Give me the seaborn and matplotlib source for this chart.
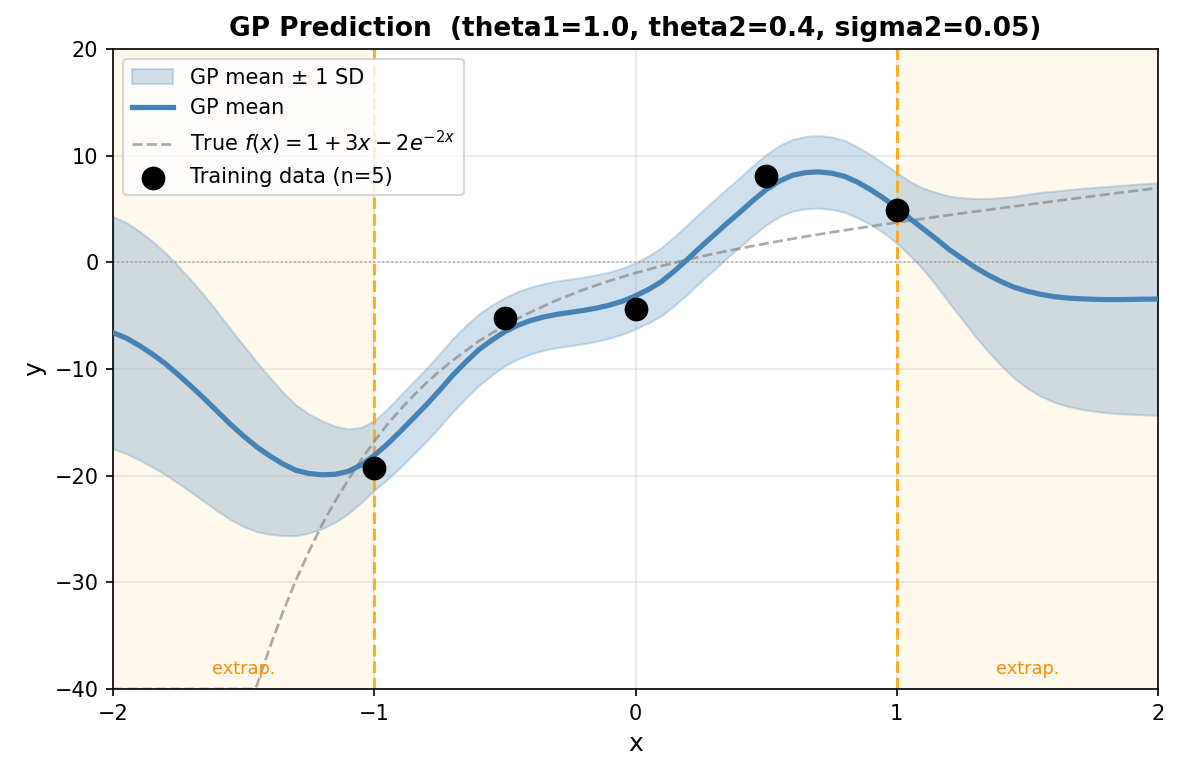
import numpy as np
import pandas as pd
import seaborn as sns
import matplotlib.pyplot as plt

x_grid = np.linspace(-2, 2, 81)
gp_mean = [-6.6, -7.1, -7.8, -8.6, -9.5, -10.55, -11.65, -12.8, -14.0, -15.2,
           -16.3, -17.3, -18.15, -18.9, -19.5, -19.8, -19.92, -19.88, -19.6, -19.0,
           -18.1, -17.05, -15.85, -14.6, -13.35, -12.0, -10.6, -9.35, -8.2, -7.3,
           -6.5, -5.9, -5.45, -5.12, -4.88, -4.7, -4.52, -4.3, -4.02, -3.65,
           -3.15, -2.55, -1.8, -0.8, 0.3, 1.45, 2.55, 3.65, 4.7, 5.8,
           6.8, 7.6, 8.15, 8.4, 8.47, 8.35, 8.05, 7.5, 6.8, 6.0,
           5.1, 4.1, 3.15, 2.2, 1.2, 0.35, -0.48, -1.2, -1.82, -2.35,
           -2.72, -3.0, -3.22, -3.35, -3.42, -3.47, -3.5, -3.5, -3.48, -3.46,
           -3.45]
gp_sd = [10.88, 10.82, 10.72, 10.58, 10.4, 10.18, 9.93, 9.65, 9.32, 8.93,
         8.48, 7.95, 7.35, 6.72, 6.12, 5.58, 5.05, 4.5, 3.98, 3.52,
         3.25, 3.3, 3.38, 3.4, 3.42, 3.43, 3.43, 3.4, 3.35, 3.28,
         3.2, 3.16, 3.13, 3.12, 3.12, 3.12, 3.12, 3.12, 3.1, 3.1,
         3.1, 3.14, 3.2, 3.23, 3.25, 3.26, 3.26, 3.25, 3.25, 3.27,
         3.3, 3.33, 3.36, 3.39, 3.4, 3.4, 3.37, 3.32, 3.27, 3.26,
         3.3, 3.47, 3.8, 4.35, 5.0, 5.7, 6.45, 7.18, 7.88, 8.53,
         9.1, 9.55, 9.88, 10.13, 10.33, 10.47, 10.6, 10.69, 10.77, 10.84,
         10.9]

# true function curve (clipped at the bottom of the axes)
true_x = [-2.0, -1.46, -1.45, -1.4, -1.35, -1.3, -1.25, -1.2, -1.15, -1.1, -1.05,
          -1.0, -0.95, -0.9, -0.85, -0.8, -0.75, -0.7, -0.65, -0.6, -0.5,
          -0.4, -0.3, -0.2, -0.1, 0.0, 0.1, 0.2, 0.3, 0.4, 0.5, 0.6, 0.7, 0.8,
          0.9, 1.0, 1.1, 1.2, 1.3, 1.4, 1.5, 1.6, 1.7, 1.8, 1.9, 2.0]
true_y = [-40.0, -40.0, -39.7, -36.1, -32.8, -29.8, -27.1, -24.6, -22.4, -20.4, -18.5,
          -16.8, -15.2, -13.8, -12.5, -11.3, -10.2, -9.2, -8.3, -7.4, -5.9,
          -4.65, -3.54, -2.58, -1.74, -1.0, -0.34, 0.26, 0.80, 1.30, 1.76, 2.20, 2.61, 3.0,
          3.37, 3.73, 4.08, 4.42, 4.75, 5.08, 5.40, 5.72, 6.03, 6.35, 6.66, 6.96]

# training data
train_x = [-1.0, -0.5, 0.0, 0.5, 1.0]
train_y = [-19.3, -5.25, -4.4, 8.06, 4.94]

pred = pd.DataFrame({'x': x_grid, 'mean': gp_mean, 'sd': gp_sd})
pred['lo'] = pred['mean'] - pred['sd']
pred['hi'] = pred['mean'] + pred['sd']

fig = plt.figure(figsize=(7.874, 5.174), dpi=150)
ax = fig.add_axes([0.0957, 0.1121, 0.8848, 0.8248])

# extrapolation zones
ax.axvspan(-2, -1, color='orange', alpha=0.07, lw=0)
ax.axvspan(1, 2, color='orange', alpha=0.07, lw=0)
ax.axvline(-1, color='orange', ls='--', lw=1.5, alpha=0.85)
ax.axvline(1, color='orange', ls='--', lw=1.5, alpha=0.85)
ax.axhline(0, color='gray', ls=':', lw=0.8, alpha=0.6)

ax.fill_between(pred['x'], pred['lo'], pred['hi'], color='steelblue', alpha=0.25,
                label='GP mean ± 1 SD')
sns.lineplot(x=pred['x'], y=pred['mean'], ax=ax, color='steelblue', lw=2.5,
             estimator=None, label='GP mean', zorder=3)
sns.lineplot(x=true_x, y=true_y, ax=ax, color='gray', lw=1.3, ls='--', alpha=0.65,
             estimator=None, label=r'True $f(x) = 1 + 3x - 2e^{-2x}$', zorder=2)
sns.scatterplot(x=train_x, y=train_y, ax=ax, color='black', s=130, edgecolor='black',
                linewidth=0, label='Training data (n=5)', zorder=5)

ax.text(-1.5, -38.1, 'extrap.', color='darkorange', fontsize=8.5, ha='center', va='center')
ax.text(1.5, -38.1, 'extrap.', color='darkorange', fontsize=8.5, ha='center', va='center')

ax.set_xlim(-2, 2)
ax.set_ylim(-40, 20)
ax.set_xticks([-2, -1, 0, 1, 2])
ax.set_yticks([-40, -30, -20, -10, 0, 10, 20])
ax.grid(True, alpha=0.3)
ax.set_xlabel('x', fontsize=12)
ax.set_ylabel('y', fontsize=12)
ax.set_title('GP Prediction  (theta1=1.0, theta2=0.4, sigma2=0.05)', fontsize=12.7,
             fontweight='bold')
ax.legend(loc='upper left', fontsize=10)

fig.savefig('out.png', dpi=150)
